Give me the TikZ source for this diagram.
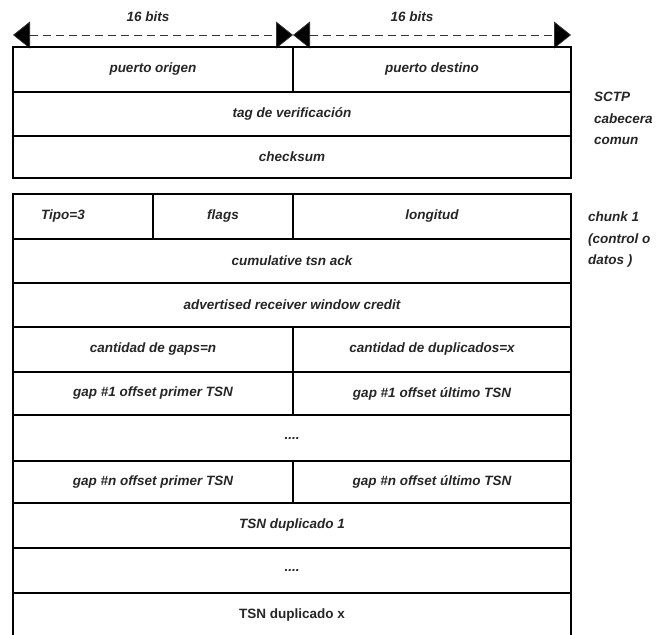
\documentclass[tikz,border=0pt]{standalone}
\usepackage{fontspec}
\setmainfont{Liberation Sans}
\usetikzlibrary{arrows.meta}
\tikzset{
  cellst/.style={draw=black, line width=1.6pt, inner sep=0pt, outer sep=0pt, rectangle,
    font=\fontsize{13.5}{16}\selectfont\bfseries\itshape, text=black!85},
  lbl/.style={inner sep=0pt, font=\fontsize{13.5}{16}\selectfont\bfseries\itshape, text=black!85},
  side/.style={inner sep=0pt, anchor=north west, align=left,
    font=\fontsize{13.5}{21.5}\selectfont\bfseries\itshape, text=black!85},
  dim/.style={dashed, dash pattern=on 8pt off 5pt, line width=0.8pt, draw=black!80,
    {Triangle[length=17pt,width=27pt,fill=black]}-{Triangle[length=17pt,width=27pt,fill=black]}}
}
\newcommand\cellbox[6]{%
  \node[cellst, minimum width={(#4-#2)*1pt}, minimum height={(#5-#3)*1pt}]
    (#1) at ({(#2+#4)/2},{-(#3+#5)/2}) {#6};}
\begin{document}
\begin{tikzpicture}[x=1pt,y=1pt]
\useasboundingbox (0,0) rectangle (658,-634);
% dimension arrows
\coordinate (aL) at (13,-35);
\coordinate (aM) at (293,-35);
\coordinate (aR) at (571,-35);
\draw[dim] (aL) -- (aM);
\draw[dim] (aM) -- (aR);
\node[lbl] (b1) at (148,-17) {16 bits};
\node[lbl] (b2) at (412,-17) {16 bits};
% common header
\cellbox{po}{13}{47}{293}{92}{puerto origen}
\cellbox{pd}{293}{47}{571}{92}{puerto destino}
\cellbox{tag}{13}{92}{571}{136}{tag de verificación}
\cellbox{cks}{13}{136}{571}{178}{checksum}
% chunk
\cellbox{tipo}{13}{194}{153}{239}{}
\node[lbl] (tipot) at (63,-216.5) {Tipo=3};
\cellbox{flags}{153}{194}{293}{239}{flags}
\cellbox{long}{293}{194}{571}{239}{longitud}
\cellbox{cum}{13}{239}{571}{283}{cumulative tsn ack}
\cellbox{arw}{13}{283}{571}{327}{advertised receiver window credit}
\cellbox{cg}{13}{327}{293}{372}{cantidad de gaps=n}
\cellbox{cd}{293}{327}{571}{372}{cantidad de duplicados=x}
\cellbox{g1a}{13}{372}{293}{415}{gap \#1 offset primer TSN}
\cellbox{g1b}{293}{372}{571}{415}{gap \#1 offset último TSN}
\cellbox{dots1}{13}{415}{571}{461}{....}
\cellbox{gna}{13}{461}{293}{503}{gap \#n offset primer TSN}
\cellbox{gnb}{293}{461}{571}{503}{gap \#n offset último TSN}
\cellbox{dup1}{13}{503}{571}{548}{TSN duplicado 1}
\cellbox{dots2}{13}{548}{571}{593}{....}
\node[cellst, font=\fontsize{13.5}{16}\selectfont\bfseries, minimum width=558pt, minimum height=45pt]
  (dupx) at (292,-615.5) {TSN duplicado x};
% side labels
\node[side] (sctp) at (594,-92) {SCTP\\cabecera\\comun};
\node[side] (chk) at (588,-212) {chunk 1\\(control o\\datos )};
\end{tikzpicture}
\end{document}
